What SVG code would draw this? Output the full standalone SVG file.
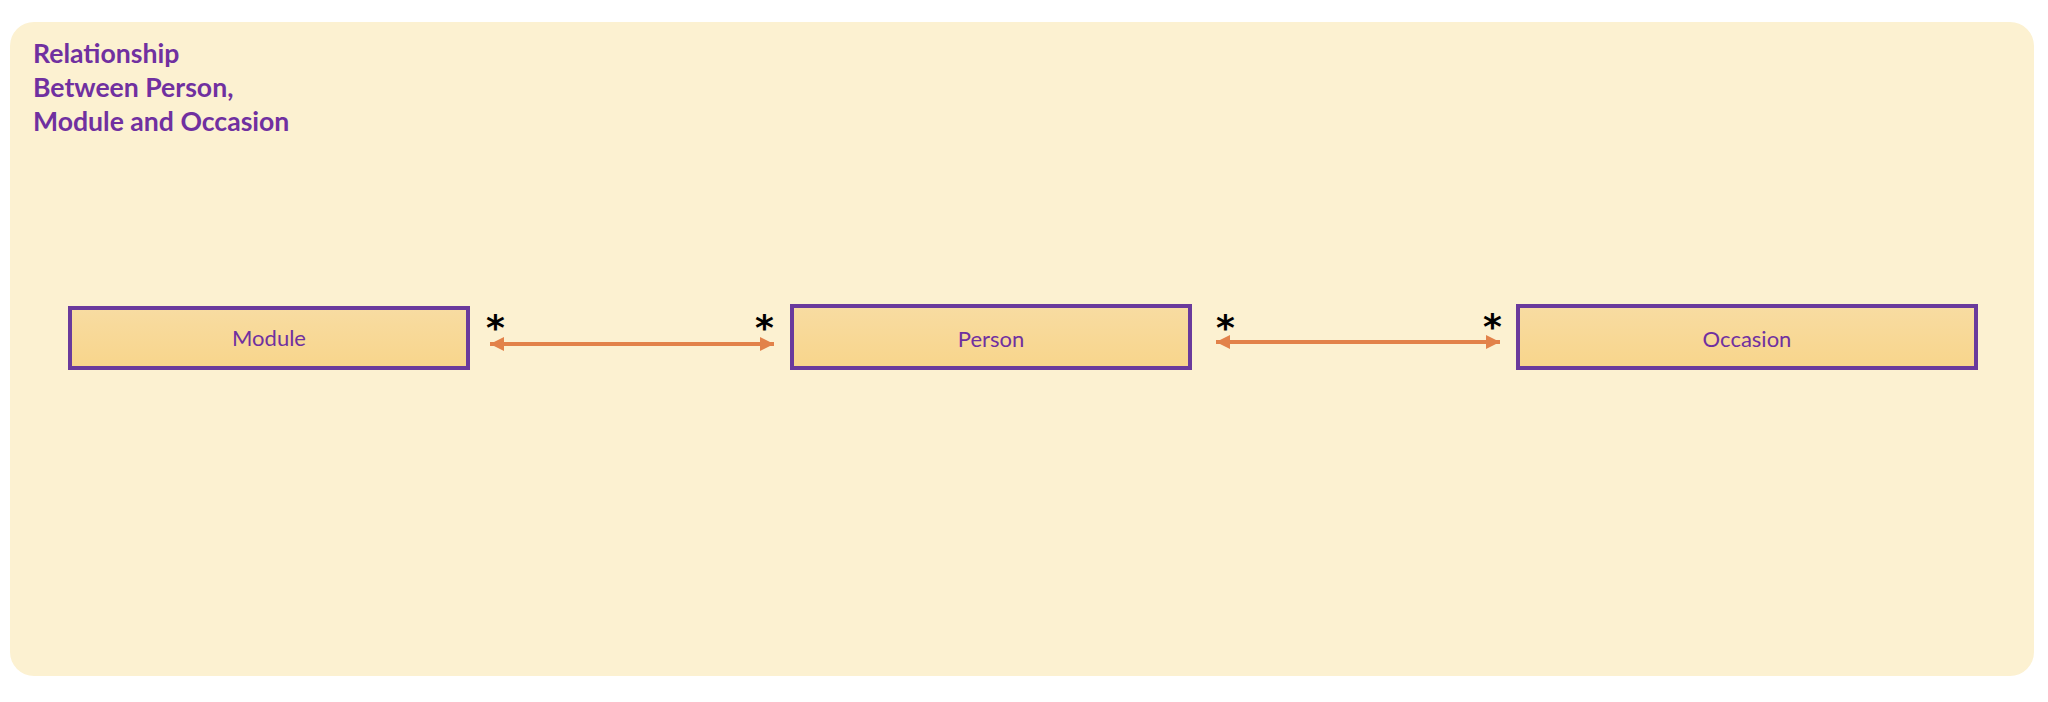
<svg xmlns="http://www.w3.org/2000/svg" width="2048" height="702" viewBox="0 0 2048 702">
<defs>
<linearGradient id="boxFill" x1="0" y1="0" x2="0" y2="1">
<stop offset="0" stop-color="#F8DCA2"/>
<stop offset="1" stop-color="#F8D58B"/>
</linearGradient>
<marker id="arrowHead" viewBox="0 0 14 14" refX="14" refY="7" markerWidth="14" markerHeight="14" markerUnits="userSpaceOnUse" orient="auto-start-reverse">
<path d="M0,0 L14,7 L0,14 Z" fill="#E2824A"/>
</marker>
</defs>
<style>
.bg { fill: #FCF1D1; }
.title { font-family: Lato, "Open Sans", "Liberation Sans", sans-serif; font-weight: bold; font-size: 26.6px; fill: #7030A0; }
.box { fill: url(#boxFill); stroke: #6A3A9C; stroke-width: 4; }
.label { font-family: Lato, "Open Sans", "Liberation Sans", sans-serif; font-size: 22px; fill: #7030A0; text-anchor: middle; }
.conn { stroke: #E2824A; stroke-width: 4; fill: none; marker-start: url(#arrowHead); marker-end: url(#arrowHead); }
.mult { font-family: "DejaVu Sans", sans-serif; font-weight: bold; font-size: 36px; fill: #000000; text-anchor: middle; }
</style>
<rect class="bg" x="10" y="22" width="2024" height="654" rx="24" ry="24"/>
<g id="title">
<text class="title" x="33" y="63">Relationship</text>
<text class="title" x="33" y="97">Between Person,</text>
<text class="title" x="33" y="131">Module and Occasion</text>
</g>
<g id="connectors">
<line class="conn" x1="490" y1="344" x2="774" y2="344"/>
<line class="conn" x1="1216" y1="342" x2="1500" y2="342"/>
<text class="mult" x="495.5" y="340">*</text>
<text class="mult" x="764.5" y="340">*</text>
<text class="mult" x="1225.5" y="340">*</text>
<text class="mult" x="1492.5" y="339">*</text>
</g>
<g id="module">
<rect class="box" x="70" y="308" width="398" height="60"/>
<text class="label" x="269" y="346">Module</text>
</g>
<g id="person">
<rect class="box" x="792" y="306" width="398" height="62"/>
<text class="label" x="991" y="347">Person</text>
</g>
<g id="occasion">
<rect class="box" x="1518" y="306" width="458" height="62"/>
<text class="label" x="1747" y="347">Occasion</text>
</g>
</svg>
